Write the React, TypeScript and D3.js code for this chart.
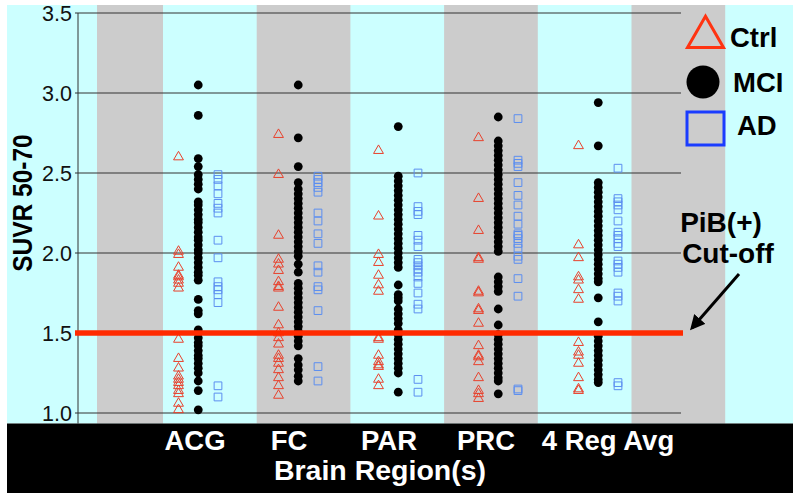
import React from 'react';
import * as d3 from 'd3';

// regions on the x axis
const regions = ['ACG', 'FC', 'PAR', 'PRC', '4 Reg Avg'];
const groups = ['Ctrl', 'MCI', 'AD'];
const yTicks = [1.0, 1.5, 2.0, 2.5, 3.0, 3.5];
const cutoff = 1.5;

// SUVR values
const acgCtrl = [2.60, 2.01, 1.99, 1.91, 1.86, 1.85, 1.83, 1.81, 1.78, 1.46, 1.34, 1.28, 1.23, 1.21, 1.19, 1.17, 1.14, 1.12, 1.06, 1.02];
const acgMci = [3.05, 2.86, 2.59, 2.54, 2.49, 2.46, 2.43, 2.40, 2.32, 2.30, 2.27, 2.24, 2.21, 2.19, 2.16, 2.13, 2.10, 2.08, 2.05, 2.02, 2.00, 1.97, 1.94, 1.91, 1.88, 1.86, 1.83, 1.71, 1.64, 1.62, 1.52, 1.50, 1.47, 1.44, 1.42, 1.39, 1.36, 1.34, 1.31, 1.28, 1.25, 1.20, 1.14, 1.02];
const acgAd = [2.49, 2.46, 2.42, 2.37, 2.31, 2.28, 2.25, 2.08, 1.97, 1.82, 1.79, 1.77, 1.74, 1.69, 1.17, 1.10];

const fcCtrl = [2.74, 2.49, 2.11, 1.96, 1.93, 1.89, 1.82, 1.79, 1.78, 1.66, 1.55, 1.50, 1.47, 1.43, 1.36, 1.34, 1.31, 1.27, 1.22, 1.17, 1.11];
const fcMci = [3.05, 2.72, 2.54, 2.44, 2.40, 2.37, 2.34, 2.31, 2.28, 2.25, 2.22, 2.19, 2.16, 2.13, 2.10, 2.07, 2.04, 2.01, 1.98, 1.93, 1.88, 1.81, 1.78, 1.75, 1.72, 1.69, 1.66, 1.63, 1.60, 1.57, 1.54, 1.51, 1.48, 1.45, 1.42, 1.34, 1.30, 1.27, 1.23, 1.20];
const fcAd = [2.48, 2.46, 2.44, 2.41, 2.38, 2.25, 2.20, 2.12, 2.06, 1.92, 1.88, 1.79, 1.77, 1.64, 1.29, 1.20];

const parCtrl = [2.64, 2.23, 1.99, 1.94, 1.86, 1.80, 1.76, 1.47, 1.46, 1.36, 1.32, 1.30, 1.29, 1.21, 1.17];
const parMci = [2.79, 2.48, 2.45, 2.42, 2.39, 2.36, 2.33, 2.30, 2.27, 2.24, 2.21, 2.18, 2.15, 2.12, 2.09, 2.06, 2.03, 2.00, 1.97, 1.94, 1.91, 1.80, 1.74, 1.72, 1.70, 1.65, 1.62, 1.59, 1.56, 1.52, 1.49, 1.46, 1.43, 1.40, 1.37, 1.34, 1.31, 1.28, 1.25, 1.13];
const parAd = [2.50, 2.29, 2.26, 2.24, 2.11, 2.08, 2.04, 1.96, 1.94, 1.92, 1.90, 1.88, 1.85, 1.81, 1.75, 1.68, 1.65, 1.21, 1.13];

const prcCtrl = [2.72, 2.34, 2.14, 1.97, 1.96, 1.76, 1.75, 1.65, 1.64, 1.56, 1.42, 1.36, 1.35, 1.32, 1.22, 1.14, 1.12, 1.09];
const prcMci = [2.85, 2.70, 2.67, 2.64, 2.61, 2.58, 2.55, 2.52, 2.49, 2.46, 2.43, 2.40, 2.37, 2.34, 2.31, 2.28, 2.25, 2.22, 2.19, 2.16, 2.13, 2.10, 2.07, 2.04, 2.01, 1.85, 1.82, 1.79, 1.76, 1.65, 1.55, 1.49, 1.46, 1.43, 1.40, 1.37, 1.34, 1.31, 1.28, 1.25, 1.22, 1.20, 1.12];
const prcAd = [2.84, 2.58, 2.56, 2.54, 2.44, 2.36, 2.30, 2.23, 2.18, 2.12, 2.11, 2.09, 2.06, 2.03, 1.98, 1.96, 1.84, 1.73, 1.15, 1.14];

const avgCtrl = [2.67, 2.05, 1.97, 1.85, 1.83, 1.77, 1.71, 1.44, 1.38, 1.36, 1.31, 1.22, 1.15, 1.14];
const avgMci = [2.94, 2.67, 2.44, 2.41, 2.38, 2.35, 2.32, 2.29, 2.26, 2.23, 2.20, 2.17, 2.14, 2.11, 2.08, 2.05, 2.02, 1.99, 1.96, 1.93, 1.90, 1.87, 1.84, 1.82, 1.72, 1.57, 1.48, 1.45, 1.42, 1.39, 1.36, 1.33, 1.30, 1.27, 1.24, 1.21, 1.19];
const avgAd = [2.53, 2.34, 2.32, 2.30, 2.27, 2.20, 2.13, 2.11, 2.09, 2.06, 2.04, 1.95, 1.93, 1.91, 1.88, 1.75, 1.73, 1.70, 1.19, 1.17];

const ctrlByRegion = [acgCtrl, fcCtrl, parCtrl, prcCtrl, avgCtrl];
const mciByRegion = [acgMci, fcMci, parMci, prcMci, avgMci];
const adByRegion = [acgAd, fcAd, parAd, prcAd, avgAd];

const W = 800, H = 498;
const font = '"Liberation Sans", Arial, Helvetica, sans-serif';

export default function App() {
  // layout
  const frameL = 7, frameR = 793, frameT = 5, frameB = 493;
  const plotL = 78, plotB = 423.5, gridR = 681;
  const bandTop = plotB;

  const y = d3.scaleLinear().domain([1, 3.5]).range([413, 13]);
  const x = d3.scaleBand().domain(regions).range([148, 648]);
  const gx = d3.scalePoint().domain(groups).range([-19.5, 20]);

  // background stripes, gray / cyan alternate
  const stripeW = 93.7;
  const stripes = d3.range(-1, 7).map(k => {
    const a = 163 + stripeW * k;
    return { x0: Math.max(a, 97), x1: Math.min(a + stripeW, frameR), gray: k % 2 !== 0 };
  });

  const tri = d3.symbol().type(d3.symbolTriangle).size(42)();
  const sq = d3.symbol().type(d3.symbolSquare).size(60)();

  const pts = (arr: number[][], g: string) =>
    arr.flatMap((vals, i) => vals.map(v => ({ cx: (x(regions[i]) as number) + x.bandwidth() / 2 + (gx(g) as number), cy: y(v) })));

  const labelNudge = [-3, -9, -9, -12, 10];

  return (
    <svg width={W} height={H} style={{ position: 'absolute', left: 0, top: 0 }} fontFamily={font}>
      <rect x={0} y={0} width={W} height={H} fill="#fff" />
      <rect x={frameL} y={frameT} width={frameR - frameL} height={bandTop - frameT} fill="#ccffff" />
      {stripes.filter(s => s.gray).map((s, i) => (
        <rect key={i} x={s.x0} y={frameT} width={s.x1 - s.x0} height={bandTop - frameT} fill="#cccccc" />
      ))}

      {/* grid */}
      {yTicks.map(t => (
        <g key={t}>
          <line x1={plotL - 3} x2={gridR} y1={y(t)} y2={y(t)} stroke="#333" strokeWidth={1} />
          <text x={72} y={y(t)} dy="0.36em" textAnchor="end" fontSize={21.5} fill="#111">{t.toFixed(1)}</text>
        </g>
      ))}
      <line x1={plotL} x2={plotL} y1={y(3.5)} y2={plotB} stroke="#333" strokeWidth={1} />

      <text transform={`translate(32,${203}) rotate(-90) scale(1,1.15)`} textAnchor="middle" fontSize={24.5} fontWeight="bold" fill="#000">SUVR 50-70</text>

      {/* points */}
      {pts(ctrlByRegion, 'Ctrl').map((p, i) => (
        <path key={'c' + i} d={tri} transform={`translate(${p.cx},${p.cy})`} fill="none" stroke="#e8412c" strokeWidth={1} />
      ))}
      {pts(adByRegion, 'AD').map((p, i) => (
        <path key={'a' + i} d={sq} transform={`translate(${p.cx},${p.cy})`} fill="none" stroke="#5b8ef0" strokeWidth={1} />
      ))}
      {pts(mciByRegion, 'MCI').map((p, i) => (
        <circle key={'m' + i} cx={p.cx} cy={p.cy} r={4.4} fill="#000" />
      ))}

      {/* cut-off line */}
      <line x1={plotL - 3} x2={683} y1={y(cutoff)} y2={y(cutoff)} stroke="#ff2a00" strokeWidth={5.5} />

      {/* bottom band */}
      <rect x={frameL} y={bandTop} width={frameR - frameL} height={frameB - bandTop} fill="#000" />
      {regions.map((r, i) => (
        <text key={r} x={(x(r) as number) + x.bandwidth() / 2 + labelNudge[i]} y={450} textAnchor="middle" fontSize={27.5} fontWeight="bold" fill="#fff">{r}</text>
      ))}
      <text x={380} y={480} textAnchor="middle" fontSize={28.5} fontWeight="bold" fill="#fff">Brain Region(s)</text>

      {/* legend */}
      <path d={d3.symbol().type(d3.symbolTriangle).size(560)()} transform="translate(705.5,37)" fill="none" stroke="#ff3311" strokeWidth={3} />
      <text x={730} y={47} fontSize={27.5} fontWeight="bold">Ctrl</text>
      <circle cx={703} cy={82} r={16.5} fill="#000" />
      <text x={733} y={92} fontSize={27.5} fontWeight="bold">MCI</text>
      <rect x={687} y={112} width={37} height={33} fill="none" stroke="#1a3cff" strokeWidth={3} />
      <text x={737} y={135} fontSize={27.5} fontWeight="bold">AD</text>

      {/* cut-off annotation */}
      <text x={721} y={232} textAnchor="middle" fontSize={28} fontWeight="bold">PiB(+)</text>
      <text x={728} y={263} textAnchor="middle" fontSize={28} fontWeight="bold">Cut-off</text>
      <defs>
        <marker id="ah" viewBox="0 0 10 10" refX={8} refY={5} markerWidth={5} markerHeight={5} orient="auto">
          <path d="M0,0 L10,5 L0,10 z" fill="#000" />
        </marker>
      </defs>
      <line x1={739} y1={274} x2={692} y2={328} stroke="#000" strokeWidth={3} markerEnd="url(#ah)" />
    </svg>
  );
}
